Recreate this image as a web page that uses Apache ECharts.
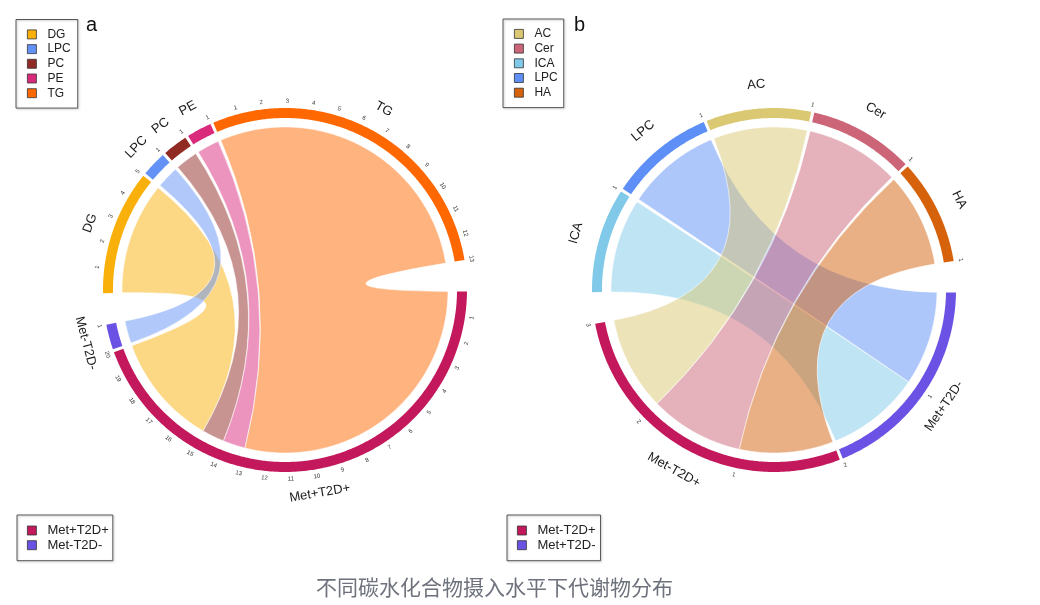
<!DOCTYPE html>
<html>
<head>
<meta charset="utf-8">
<script src="https://cdn.jsdelivr.net/npm/echarts@6/dist/echarts.min.js"></script>
<style>
html, body { margin: 0; padding: 0; background: #fff; }
#main { width: 1040px; height: 605px; }
</style>
</head>
<body>
<div id="main"></div>
<script>
// panel a: lipid classes -> groups
var aClasses = ['DG', 'LPC', 'PC', 'PE', 'TG'];
var aGroups = ['Met+T2D+', 'Met-T2D-'];
var aLinks = [
    ['DG', 'Met+T2D+', 5],
    ['LPC', 'Met-T2D-', 1],
    ['PC', 'Met+T2D+', 1],
    ['PE', 'Met+T2D+', 1],
    ['TG', 'Met+T2D+', 13]
];
// panel b
var bClasses = ['ICA', 'LPC', 'AC', 'Cer', 'HA'];
var bGroups = ['Met+T2D-', 'Met-T2D+'];
var bLinks = [
    ['ICA', 'Met+T2D-', 1],
    ['LPC', 'Met+T2D-', 1],
    ['AC', 'Met-T2D+', 1],
    ['Cer', 'Met-T2D+', 1],
    ['HA', 'Met-T2D+', 1]
];
var aLegendTop = ['DG', 'LPC', 'PC', 'PE', 'TG'];
var aLegendBottom = ['Met+T2D+', 'Met-T2D-'];
var bLegendTop = ['AC', 'Cer', 'ICA', 'LPC', 'HA'];
var bLegendBottom = ['Met-T2D+', 'Met+T2D-'];
var caption = '不同碳水化合物摄入水平下代谢物分布';

var colorsA = {
    'DG': '#f9b00a', 'LPC': '#6392f6', 'PC': '#922a24', 'PE': '#d92a7c', 'TG': '#ff6700',
    'Met+T2D+': '#c3195c', 'Met-T2D-': '#6b52e4'
};
var colorsB = {
    'AC': '#dac873', 'Cer': '#cc6577', 'ICA': '#80c9e8', 'LPC': '#5d8ff7', 'HA': '#d6620c',
    'Met-T2D+': '#c3195c', 'Met+T2D-': '#6b52e4'
};

var FONT = '"Liberation Sans", Arial, sans-serif';
var SMALL_GAP = 1, BIG_GAP = 10;
var R_OUT = 182, R_IN = 172, R_LINK = 163, R_TICK = 189, R_NAME = 206;

var chord = (function () {
    var pt = function (api, r, deg) {
        var d = ((deg % 360) + 360) % 360;
        return api.coord([r, d]);
    };
    var arc = function (api, r, a0, a1) {
        var n = Math.max(2, Math.ceil(Math.abs(a1 - a0) / 0.5));
        var pts = [];
        for (var i = 0; i <= n; i++) {
            pts.push(pt(api, r, a0 + (a1 - a0) * i / n));
        }
        return pts;
    };
    var label = function (api, r, deg, text, size, fill) {
        var p = pt(api, r, deg);
        var d = ((deg % 360) + 360) % 360;
        if (d > 180) d -= 360;
        var rot = d >= 0 ? d - 90 : d + 90;
        return {
            type: 'text', x: p[0], y: p[1], rotation: rot * Math.PI / 180,
            style: { text: text, x: 0, y: 0, fontSize: size, fontFamily: FONT, fill: fill, align: 'center', verticalAlign: 'middle' }
        };
    };
    var renderSector = function (params, api, color) {
        var a0 = api.value(1), a1 = api.value(2), n = api.value(3);
        var pts = arc(api, R_OUT, a0, a1).concat(arc(api, R_IN, a1, a0));
        var children = [{ type: 'polygon', shape: { points: pts }, style: { fill: color } }];
        var step = (a0 - a1) / n;
        for (var k = 1; k <= n; k++) {
            children.push(label(api, R_TICK, a0 - k * step, String(k), 6, '#333'));
        }
        children.push(label(api, R_NAME, (a0 + a1) / 2, params.seriesName, 13, '#1a1a1a'));
        return { type: 'group', children: children };
    };
    var renderRibbon = function (api, color) {
        var c = api.coord([0, 0]);
        var p = arc(api, R_LINK, api.value(1), api.value(2));
        var q = arc(api, R_LINK, api.value(3), api.value(4));
        var d = 'M' + p[0][0] + ',' + p[0][1];
        for (var i = 1; i < p.length; i++) d += 'L' + p[i][0] + ',' + p[i][1];
        d += 'Q' + c[0] + ',' + c[1] + ',' + q[0][0] + ',' + q[0][1];
        for (var j = 1; j < q.length; j++) d += 'L' + q[j][0] + ',' + q[j][1];
        d += 'Q' + c[0] + ',' + c[1] + ',' + p[0][0] + ',' + p[0][1] + 'Z';
        return {
            type: 'path', shape: { pathData: d },
            style: { fill: color, fillOpacity: 0.5, stroke: '#fff', strokeOpacity: 0.7, lineWidth: 0.8 }
        };
    };
    var renderItem = function (params, api) {
        var color = api.visual('color');
        if (api.value(0) === 0) return renderSector(params, api, color);
        return renderRibbon(api, color);
    };
    // circos-like layout: classes then groups, clockwise, big gap between the halves
    var layout = function (classes, groups, links, startDeg) {
        var nodes = classes.concat(groups);
        var size = {}, total = 0;
        nodes.forEach(function (n) { size[n] = 0; });
        links.forEach(function (l) { size[l[0]] += l[2]; size[l[1]] += l[2]; });
        nodes.forEach(function (n) { total += size[n]; });
        var unit = (360 - (nodes.length - 2) * SMALL_GAP - 2 * BIG_GAP) / total;
        var pos = {}, a = startDeg;
        nodes.forEach(function (n, i) {
            pos[n] = { start: a, end: a - size[n] * unit, size: size[n], used: 0 };
            var last = (i === classes.length - 1 || i === nodes.length - 1);
            a = pos[n].end - (last ? BIG_GAP : SMALL_GAP);
        });
        var src = [], tgt = [];
        links.forEach(function (l, i) {
            var s = pos[l[0]];
            var s0 = s.start - s.used * unit;
            s.used += l[2];
            src[i] = [s0, s.start - s.used * unit];
        });
        for (var i = links.length - 1; i >= 0; i--) {
            var t = pos[links[i][1]];
            var t0 = t.start - t.used * unit;
            t.used += links[i][2];
            tgt[i] = [t0, t.start - t.used * unit];
        }
        return { nodes: nodes, pos: pos, src: src, tgt: tgt };
    };
    var build = function (classes, groups, links, startDeg, polarIndex, colors, prefix) {
        var L = layout(classes, groups, links, startDeg);
        return L.nodes.map(function (n) {
            var data = [[0, L.pos[n].start, L.pos[n].end, L.pos[n].size, 0]];
            links.forEach(function (l, i) {
                if (l[0] === n) data.push([1, L.src[i][0], L.src[i][1], L.tgt[i][0], L.tgt[i][1]]);
            });
            return {
                type: 'custom', id: prefix + n, name: n,
                coordinateSystem: 'polar', polarIndex: polarIndex,
                itemStyle: { color: colors[n] },
                data: data, renderItem: renderItem,
                silent: true, animation: false
            };
        });
    };
    return { build: build };
})();

var legend = function (names, colors, left, top, pad, fontSize) {
    return {
        data: names.map(function (n) { return { name: n, itemStyle: { color: colors[n] } }; }),
        orient: 'vertical', left: left, top: top,
        padding: pad,
        itemWidth: 9, itemHeight: 9, itemGap: 1.7,
        icon: 'rect',
        itemStyle: { borderColor: '#333', borderWidth: 0.8 },
        textStyle: { fontSize: fontSize, lineHeight: 13, color: '#222', fontFamily: FONT, padding: [0, 0, 0, 6] },
        borderColor: '#555', borderWidth: 1,
        shadowColor: 'rgba(0,0,0,0.25)', shadowBlur: 2, shadowOffsetX: 1, shadowOffsetY: 1,
        selectedMode: false
    };
};

var hiddenAngle = { type: 'value', min: 0, max: 360, startAngle: 0, clockwise: false, show: false,
    axisLine: { show: false }, axisTick: { show: false }, axisLabel: { show: false }, splitLine: { show: false } };
var hiddenRadius = { type: 'value', min: 0, max: R_OUT, show: false,
    axisLine: { show: false }, axisTick: { show: false }, axisLabel: { show: false }, splitLine: { show: false } };

var myChart = echarts.init(document.getElementById('main'));
var option = {
    backgroundColor: '#fff',
    animation: false,
    title: [
        { text: 'a', left: 86, top: 15, padding: 0, textStyle: { fontSize: 20, fontWeight: 'normal', color: '#111', fontFamily: FONT } },
        { text: 'b', left: 574, top: 15, padding: 0, textStyle: { fontSize: 20, fontWeight: 'normal', color: '#111', fontFamily: FONT } },
        { text: caption, left: 316, top: 575, padding: 0,
          textStyle: { fontSize: 21, lineHeight: 24, fontWeight: 'normal', color: '#6e727c', fontFamily: '"Noto Sans CJK SC", sans-serif' } }
    ],
    legend: [
        legend(aLegendTop, colorsA, 16, 19.5, [8.4, 7, 8.4, 11], 12),
        legend(aLegendBottom, colorsA, 17, 515, [9, 4, 9, 10], 13),
        legend(bLegendTop, colorsB, 503, 19, [8.4, 6, 8.4, 11], 12),
        legend(bLegendBottom, colorsB, 507, 515, [9, 5, 9, 10], 13)
    ],
    polar: [
        { center: [285, 290], radius: R_OUT },
        { center: [774, 290], radius: R_OUT }
    ],
    angleAxis: [
        Object.assign({ polarIndex: 0 }, hiddenAngle),
        Object.assign({ polarIndex: 1 }, hiddenAngle)
    ],
    radiusAxis: [
        Object.assign({ polarIndex: 0 }, hiddenRadius),
        Object.assign({ polarIndex: 1 }, hiddenRadius)
    ],
    series: chord.build(aClasses, aGroups, aLinks, 181, 0, colorsA, 'a-')
        .concat(chord.build(bClasses, bGroups, bLinks, 180.7, 1, colorsB, 'b-'))
};
myChart.setOption(option);
</script>
</body>
</html>
